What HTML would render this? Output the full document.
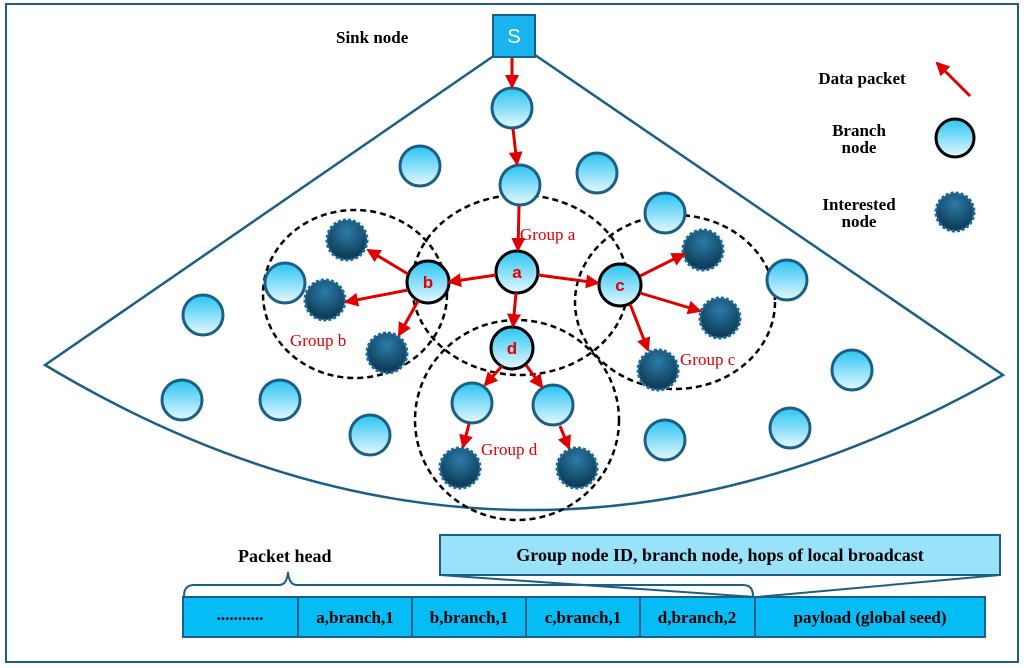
<!DOCTYPE html>
<html><head><meta charset="utf-8"><style>body{margin:0;background:#fff}svg{display:block}</style></head><body>
<svg width="1024" height="668" viewBox="0 0 1024 668" xmlns="http://www.w3.org/2000/svg" font-family="Liberation Serif, serif">
<defs>
<linearGradient id="lb" x1="0" y1="0" x2="0" y2="1"><stop offset="0" stop-color="#29c4f2"/><stop offset="1" stop-color="#e6f8ff"/></linearGradient>
<radialGradient id="dk" cx="0.5" cy="0.3" r="0.7"><stop offset="0" stop-color="#2b7ca8"/><stop offset="1" stop-color="#0c3550"/></radialGradient>
<marker id="ar" markerWidth="8" markerHeight="8" refX="7" refY="4" orient="auto" markerUnits="userSpaceOnUse"><path d="M0,0 L8,4 L0,8 z" fill="#e00000"/></marker>
<marker id="ar2" markerWidth="14" markerHeight="14" refX="12" refY="7" orient="auto" markerUnits="userSpaceOnUse"><path d="M0,0 L14,7 L0,14 z" fill="#e00000"/></marker>
</defs>
<rect x="6" y="4" width="1012" height="658" fill="none" stroke="#1b5f86" stroke-width="2"/>
<path d="M495,55 L45,365 Q520,650 1003,375 L535,55" fill="none" stroke="#1b5f86" stroke-width="2.5"/>
<rect x="493" y="15" width="42" height="42" fill="#1ab4ee" stroke="#1b5f86" stroke-width="2"/>
<text x="514" y="43" text-anchor="middle" font-family="Liberation Sans,sans-serif" font-size="20" fill="#fff">S</text>
<text x="336" y="43" font-size="17" font-weight="bold">Sink node</text>
<g fill="none" stroke="#000" stroke-width="2.5" stroke-dasharray="6,4">
<ellipse cx="520" cy="285" rx="108" ry="90"/>
<ellipse cx="355" cy="294" rx="92" ry="84"/>
<ellipse cx="675" cy="302" rx="100" ry="87"/>
<ellipse cx="517" cy="420" rx="102" ry="100"/>
</g>
<g fill="url(#lb)" stroke="#1b5f86" stroke-width="3">
<circle cx="512" cy="108" r="20"/><circle cx="420" cy="166" r="20"/><circle cx="597" cy="173" r="20"/><circle cx="520" cy="185" r="20"/><circle cx="665" cy="213" r="20"/><circle cx="285" cy="283" r="20"/><circle cx="203" cy="315" r="20"/><circle cx="787" cy="280" r="20"/><circle cx="182" cy="400" r="20"/><circle cx="280" cy="400" r="20"/><circle cx="370" cy="435" r="20"/><circle cx="852" cy="370" r="20"/><circle cx="790" cy="428" r="20"/><circle cx="665" cy="440" r="20"/><circle cx="472" cy="403" r="20"/><circle cx="553" cy="405" r="20"/>
</g>
<g fill="url(#dk)" stroke="#1b6a98" stroke-width="3" stroke-dasharray="3,2">
<circle cx="347" cy="240" r="20"/><circle cx="325" cy="300" r="20"/><circle cx="387" cy="353" r="20"/><circle cx="703" cy="250" r="20"/><circle cx="720" cy="318" r="20"/><circle cx="658" cy="370" r="20"/><circle cx="460" cy="468" r="20"/><circle cx="577" cy="468" r="20"/><circle cx="955" cy="212" r="19"/>
</g>
<g fill="url(#lb)" stroke="#000" stroke-width="3">
<circle cx="517" cy="272" r="21"/><circle cx="428" cy="282" r="21"/><circle cx="620" cy="285" r="21"/><circle cx="512" cy="348" r="21"/><circle cx="955" cy="138" r="19"/>
</g>
<g fill="#e00000" font-family="Liberation Sans,sans-serif" font-weight="bold" font-size="17" text-anchor="middle">
<text x="517" y="278">a</text><text x="428" y="288">b</text><text x="620" y="291">c</text><text x="512" y="354">d</text>
</g>
<g stroke="#e00000" stroke-width="3" marker-end="url(#ar2)">
<line x1="512" y1="58" x2="512" y2="87"/>
<line x1="513" y1="129" x2="517" y2="164"/>
<line x1="519" y1="206" x2="518" y2="250"/>
<line x1="496" y1="275" x2="449" y2="282"/>
<line x1="538" y1="275" x2="598" y2="283"/>
<line x1="516" y1="293" x2="513" y2="326"/>
<line x1="408" y1="274" x2="368" y2="250"/>
<line x1="408" y1="290" x2="346" y2="302"/>
<line x1="418" y1="301" x2="399" y2="335"/>
<line x1="640" y1="276" x2="684" y2="254"/>
<line x1="640" y1="293" x2="700" y2="311"/>
<line x1="630" y1="304" x2="648" y2="350"/>
<line x1="502" y1="366" x2="485" y2="385"/>
<line x1="526" y1="365" x2="542" y2="387"/>
<line x1="469" y1="424" x2="463" y2="447"/>
<line x1="560" y1="426" x2="569" y2="448"/>
<line x1="970" y1="96" x2="937" y2="63"/>
</g>
<g fill="#e00000" font-size="17">
<text x="520" y="240">Group a</text><text x="290" y="346">Group b</text><text x="680" y="365">Group c</text><text x="481" y="455">Group d</text>
</g>
<g font-size="17" font-weight="bold" text-anchor="middle">
<text x="862" y="84">Data packet</text>
<text x="859" y="136">Branch</text><text x="859" y="153">node</text>
<text x="859" y="210">Interested</text><text x="859" y="227">node</text>
</g>
<path d="M440,575 L755,597 M1000,575 L757,597" stroke="#1b5f86" stroke-width="2" fill="none"/>
<rect x="440" y="535" width="560" height="40" fill="#99e2fa" stroke="#1b5f86" stroke-width="2"/>
<text x="720" y="561" text-anchor="middle" font-size="18" font-weight="bold">Group node ID, branch node, hops of local broadcast</text>
<path d="M184,596 Q184,585 194,585 L279,585 Q287,585 288,572 Q289,585 297,585 L743,585 Q753,585 753,596" fill="none" stroke="#1b5f86" stroke-width="2"/>
<text x="238" y="562" font-size="18" font-weight="bold">Packet head</text>
<g fill="#06bcf5" stroke="#1b5f86" stroke-width="2">
<rect x="183" y="597" width="115" height="40"/><rect x="298" y="597" width="114" height="40"/><rect x="412" y="597" width="114" height="40"/><rect x="526" y="597" width="114" height="40"/><rect x="640" y="597" width="115" height="40"/><rect x="755" y="597" width="230" height="40"/>
</g>
<g font-size="17" font-weight="bold" text-anchor="middle">
<text x="240" y="620">...........</text><text x="355" y="623">a,branch,1</text><text x="469" y="623">b,branch,1</text><text x="583" y="623">c,branch,1</text><text x="697" y="623">d,branch,2</text><text x="870" y="623">payload (global seed)</text>
</g>
</svg>
</body></html>
